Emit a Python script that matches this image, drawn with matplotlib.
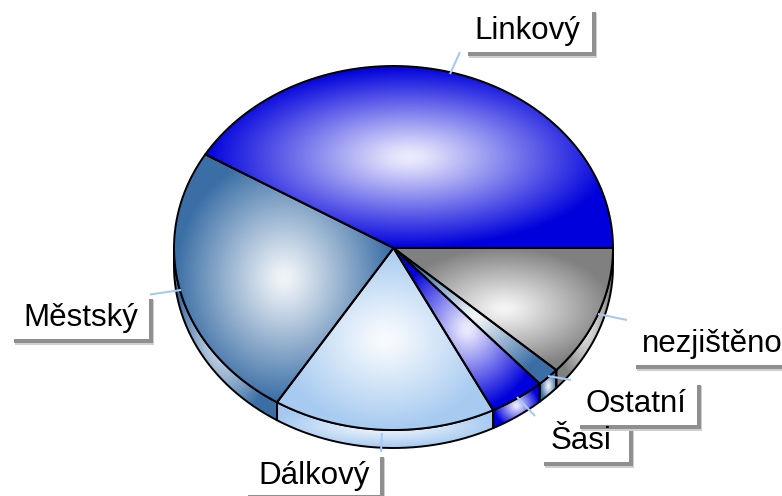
import numpy as np
import matplotlib
matplotlib.use("Agg")
import matplotlib.pyplot as plt
from matplotlib.path import Path
from matplotlib.patches import PathPatch, Rectangle
from matplotlib.colors import to_rgb

categories = ["Linkový", "Městský", "Dálkový", "Šasi", "Ostatní", "nezjištěno"]
values = [41.4, 24.7, 16.4, 4.1, 1.7, 11.7]
colors = ["#0000DC", "#3A6EA5", "#A6CAF0", "#0000DC", "#3A6EA5", "#808080"]

CX, CY, RX, RY, DEPTH = 393.5, 248.0, 219.5, 182.0, 18.0
LEAD = "#A6CAF0"
plt.rcParams["font.family"] = ["Liberation Sans", "DejaVu Sans"]

# label box: x0, y0, x1, y1 (white area), text centre, leader line
label_layout = {
    "Linkový":    dict(box=(465, 12, 592, 52),  text=(527.5, 31),  lead=((460, 52), (450, 74))),
    "Městský":    dict(box=(11, 299, 149, 339), text=(80.5, 318),  lead=((150, 294.5), (181, 290))),
    "Dálkový":    dict(box=(245, 457, 380, 495), text=(314.5, 476),  lead=((382, 433), (381, 452))),
    "Šasi":       dict(box=(541, 425, 629, 462), text=(581, 441),  lead=((517, 397), (535, 416))),
    "Ostatní":    dict(box=(577, 385, 697, 425), text=(635.5, 404), lead=((548, 376), (571, 380))),
    "nezjištěno": dict(box=(633, 325, 790, 365), text=(712, 344),  lead=((598, 314), (627, 320))),
}

fig = plt.figure(figsize=(7.82, 4.96), dpi=100, facecolor="white")
ax = fig.add_axes([0, 0, 1, 1])
ax.set_axis_off()


def ell(t, dy=0.0):
    return np.column_stack([CX + RX * np.cos(t), CY - RY * np.sin(t) + dy])


def gradient_fill(verts, color, z):
    verts = np.asarray(verts)
    x0, y0 = verts.min(axis=0)
    x1, y1 = verts.max(axis=0)
    xs = np.linspace(x0, x1, max(int(x1 - x0) + 1, 2))
    ys = np.linspace(y0, y1, max(int(y1 - y0) + 1, 2))
    X, Y = np.meshgrid(xs, ys)
    d = np.sqrt(((X - (x0 + x1) / 2) / max((x1 - x0) / 2, 1)) ** 2 +
                ((Y - (y0 + y1) / 2) / max((y1 - y0) / 2, 1)) ** 2)
    # soft top on the highlight, reaching the slice colour at the bbox ellipse
    eps = 0.08
    d = np.clip((np.sqrt(d ** 2 + eps ** 2) - eps) / (np.sqrt(1 + eps ** 2) - eps), 0, 1)[..., None]
    c = np.array(to_rgb(color))
    centre = 0.92 * np.array([1.0, 1.0, 1.0]) + 0.08 * c
    img = (1 - d) * centre + d * c
    im = ax.imshow(img, extent=(x0, x1, y1, y0), origin="upper", aspect="auto",
                   interpolation="bilinear", zorder=z)
    path = Path(np.vstack([verts, verts[:1]]))
    im.set_clip_path(PathPatch(path, transform=ax.transData))
    ax.add_patch(PathPatch(path, fc="none", ec="black", lw=1.4, joinstyle="round", zorder=z + 0.5))


edges = np.radians(np.concatenate([[0], np.cumsum(values) / np.sum(values) * 360]))

# side wall: only the part of each slice on the front half
for i, color in enumerate(colors):
    a = max(edges[i], np.pi)
    b = min(edges[i + 1], 2 * np.pi)
    if b > a:
        t = np.linspace(a, b, 120)
        verts = np.vstack([ell(t), ell(t[::-1], DEPTH)])
        gradient_fill(verts, color, 2)

# top face
for i, color in enumerate(colors):
    t = np.linspace(edges[i], edges[i + 1], 240)
    verts = np.vstack([[[CX, CY]], ell(t)])
    gradient_fill(verts, color, 3)

# labels
for name in categories:
    lay = label_layout[name]
    (lx0, ly0), (lx1, ly1) = lay["lead"]
    ax.plot([lx0, lx1], [ly0, ly1], color=LEAD, lw=1.5, zorder=5, solid_capstyle="butt")

for z, name in zip([6, 6, 6, 6.1, 6.2, 6], categories):
    x0, y0, x1, y1 = label_layout[name]["box"]
    ax.add_patch(Rectangle((x0 + 4, y0 + 1), x1 - x0 + 1, y1 - y0 + 5, fc="#cfcfcf", ec="none", zorder=z))
    ax.add_patch(Rectangle((x0 + 3, y0), x1 - x0 + 1, y1 - y0 + 4, fc="#8f8f8f", ec="none", zorder=z))
    ax.add_patch(Rectangle((x0, y0 - 1), x1 - x0, y1 - y0 + 1, fc="white", ec="none", zorder=z))

for name in categories:
    tx, ty = label_layout[name]["text"]
    ax.text(tx, ty, name, fontsize=22.5, color="black", ha="center", va="center", zorder=8)

ax.set_xlim(0, 782)
ax.set_ylim(496, 0)
fig.savefig("out.png", dpi=100, facecolor="white")
